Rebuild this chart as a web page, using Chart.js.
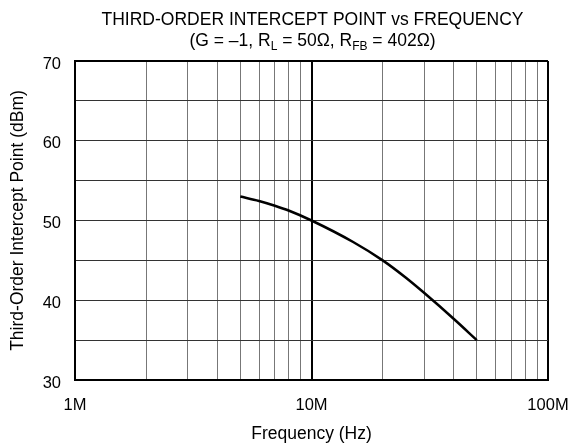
<!DOCTYPE html>
<html>
<head>
<meta charset="utf-8">
<script src="https://cdn.jsdelivr.net/npm/chart.js@4"></script>
<style>
html,body{margin:0;padding:0;background:#fff;}
#wrap{width:573px;height:447px;position:relative;}
</style>
</head>
<body>
<div id="wrap"><canvas id="c" width="573" height="447"></canvas></div>
<script>
const frequencies = [5e6, 6e6, 7e6, 8e6, 10e6, 15e6, 20e6, 25e6, 30e6, 40e6, 50e6];
const ip3Values = [53.0, 52.45, 51.85, 51.25, 50.0, 47.3, 45.0, 42.85, 40.9, 37.65, 35.0];
const xTickValues = [1e6,2e6,3e6,4e6,5e6,6e6,7e6,8e6,9e6,1e7,2e7,3e7,4e7,5e7,6e7,7e7,8e7,9e7,1e8];
const xTickLabels = {1e6:'1M', 1e7:'10M', 1e8:'100M'};
const yTickLabels = [30, 40, 50, 60, 70];
const titleLine1 = 'THIRD-ORDER INTERCEPT POINT vs FREQUENCY';
const titleLine2 = [['(G = –1, R',false],['L',true],[' = 50Ω, R',false],['FB',true],[' = 402Ω)',false]];
const xTitle = 'Frequency (Hz)';
const yTitle = 'Third-Order Intercept Point (dBm)';

const FONT = "'Liberation Sans', Arial, sans-serif";

const titlePlugin = {
  id: 'twoLineTitle',
  afterDraw(chart) {
    const ctx = chart.ctx;
    const area = chart.chartArea;
    const cx = (area.left + area.right) / 2 + 1;
    ctx.save();
    ctx.fillStyle = '#000';
    ctx.textBaseline = 'alphabetic';
    ctx.font = '17.5px ' + FONT;
    ctx.textAlign = 'center';
    ctx.fillText(titleLine1, cx, 25);
    const mainFont = '17.5px ' + FONT, subFont = '12px ' + FONT;
    let total = 0;
    titleLine2.forEach(([t, sub]) => { ctx.font = sub ? subFont : mainFont; total += ctx.measureText(t).width; });
    let x = cx - total / 2;
    ctx.textAlign = 'left';
    titleLine2.forEach(([t, sub]) => {
      ctx.font = sub ? subFont : mainFont;
      ctx.fillText(t, x, sub ? 50 : 45.5);
      x += ctx.measureText(t).width;
    });
    ctx.restore();
  }
};

new Chart(document.getElementById('c'), {
  type: 'line',
  data: {
    datasets: [{
      data: frequencies.map((f, i) => ({x: f, y: ip3Values[i]})),
      borderColor: '#000',
      borderWidth: 2.5,
      pointRadius: 0,
      fill: false,
      cubicInterpolationMode: 'monotone'
    }]
  },
  options: {
    responsive: false,
    animation: false,
    devicePixelRatio: 1,
    layout: {padding: {top: 61, right: 25, left: 0, bottom: 0}},
    plugins: {legend: {display: false}, tooltip: {enabled: false}, title: {display: false}},
    scales: {
      x: {
        type: 'logarithmic',
        min: 1e6, max: 1e8,
        afterBuildTicks(scale) { scale.ticks = xTickValues.map(v => ({value: v})); },
        afterFit(scale) { scale.height = 67; scale.paddingLeft = 0; scale.paddingRight = 0; },
        ticks: {
          autoSkip: false, maxRotation: 0,
          color: '#000', font: {family: FONT, size: 16.5}, padding: 16,
          callback: (v) => xTickLabels[v] || ''
        },
        grid: {
          drawTicks: false,
          color: (ctx) => { const v = ctx.tick && ctx.tick.value; return (v === 1e6 || v === 1e7 || v === 1e8) ? '#000' : '#777'; },
          lineWidth: (ctx) => { const v = ctx.tick && ctx.tick.value; return (v === 1e6 || v === 1e7 || v === 1e8) ? 2 : 1; }
        },
        border: {display: true, color: '#000', width: 2},
        title: {display: true, text: xTitle, color: '#000', font: {family: FONT, size: 17.5}, padding: {top: 0, bottom: 2}}
      },
      y: {
        min: 30, max: 70,
        afterBuildTicks(scale) { const t = []; for (let v = 30; v <= 70; v += 5) t.push({value: v}); scale.ticks = t; },
        afterFit(scale) { scale.width = 75; scale.paddingTop = 0; scale.paddingBottom = 0; },
        ticks: {
          color: '#000', font: {family: FONT, size: 16.5}, padding: 14, labelOffset: 3,
          callback: (v) => yTickLabels.includes(v) ? String(v) : ''
        },
        grid: {
          drawTicks: false,
          color: (ctx) => { const v = ctx.tick && ctx.tick.value; return (v === 30 || v === 70) ? '#000' : '#333'; },
          lineWidth: (ctx) => { const v = ctx.tick && ctx.tick.value; return (v === 30 || v === 70) ? 2 : 1; }
        },
        border: {display: true, color: '#000', width: 2},
        title: {display: true, text: yTitle, color: '#000', font: {family: FONT, size: 17.5}, padding: {top: 7.5, bottom: 0}}
      }
    }
  },
  plugins: [titlePlugin]
});
</script>
</body>
</html>
